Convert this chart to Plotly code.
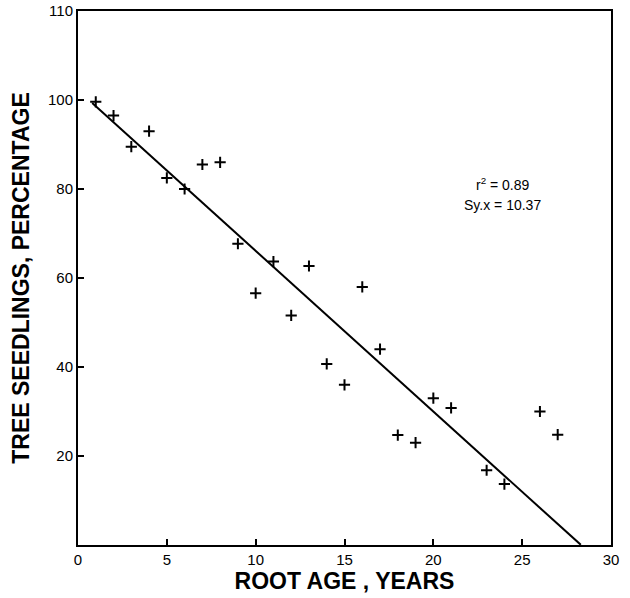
import plotly.graph_objects as go

# Data
root_age = [1, 2, 3, 4, 5, 6, 7, 8, 9, 10, 11, 12, 13, 14, 15, 16, 17, 18, 19, 20, 21, 23, 24, 26, 27]
seedlings = [99.6, 96.5, 89.5, 93, 82.5, 80, 85.5, 86, 67.7, 56.6, 63.7, 51.6, 62.7, 40.7, 36, 58,
             44, 24.7, 23, 33, 30.8, 16.8, 13.7, 30, 24.8]

# Regression line as drawn (intercept, slope, x extent)
fit_intercept = 102.2
fit_slope = -3.61
fit_x = [0.8, 28.3]
fit_y = [fit_intercept + fit_slope * x for x in fit_x]

x_ticks = [0, 5, 10, 15, 20, 25, 30]
y_tickvals = [20, 40, 60, 80, 100, 120]
y_ticktext = ["20", "40", "60", "80", "100", "110"]

FONT = "Liberation Sans"

fig = go.Figure()
fig.add_trace(go.Scatter(
    x=fit_x, y=fit_y, mode="lines",
    line=dict(color="black", width=2), showlegend=False, hoverinfo="skip"))
fig.add_trace(go.Scatter(
    x=root_age, y=seedlings, mode="markers",
    marker=dict(symbol="cross-thin", size=8, line=dict(color="black", width=2)),
    showlegend=False))

fig.add_annotation(x=23.9, y=81.2, xref="x", yref="y",
                   text="r<sup>2</sup> = 0.89", showarrow=False,
                   font=dict(family=FONT, size=14, color="black"))
fig.add_annotation(x=23.9, y=76.5, xref="x", yref="y",
                   text="Sy.x = 10.37", showarrow=False,
                   font=dict(family=FONT, size=14, color="black"))

fig.update_xaxes(
    range=[0, 30], tickvals=x_ticks, ticks="inside", ticklen=6, tickwidth=1.5,
    tickcolor="black", showline=True, linecolor="black", linewidth=2, mirror=True,
    showgrid=False, zeroline=False, automargin=False,
    tickfont=dict(family=FONT, size=15, color="black"),
    title=dict(text="ROOT AGE , YEARS", standoff=4,
               font=dict(family=FONT, size=23, color="black", weight="bold")))
fig.update_yaxes(
    range=[0, 120], tickvals=y_tickvals, ticktext=y_ticktext, ticks="inside",
    ticklen=6, tickwidth=1.5, tickcolor="black", showline=True, linecolor="black",
    linewidth=2, mirror=True, showgrid=False, zeroline=False, automargin=True,
    tickfont=dict(family=FONT, size=15, color="black"),
    title=dict(text="TREE SEEDLINGS, PERCENTAGE", standoff=12,
               font=dict(family=FONT, size=23, color="black", weight="bold")))

fig.update_layout(
    width=630, height=598,
    margin=dict(l=78, r=19, t=11, b=53, autoexpand=False),
    plot_bgcolor="white", paper_bgcolor="white",
)

fig.write_html("out.html", config={"displayModeBar": False},
               post_script="document.body.style.margin='0';")
